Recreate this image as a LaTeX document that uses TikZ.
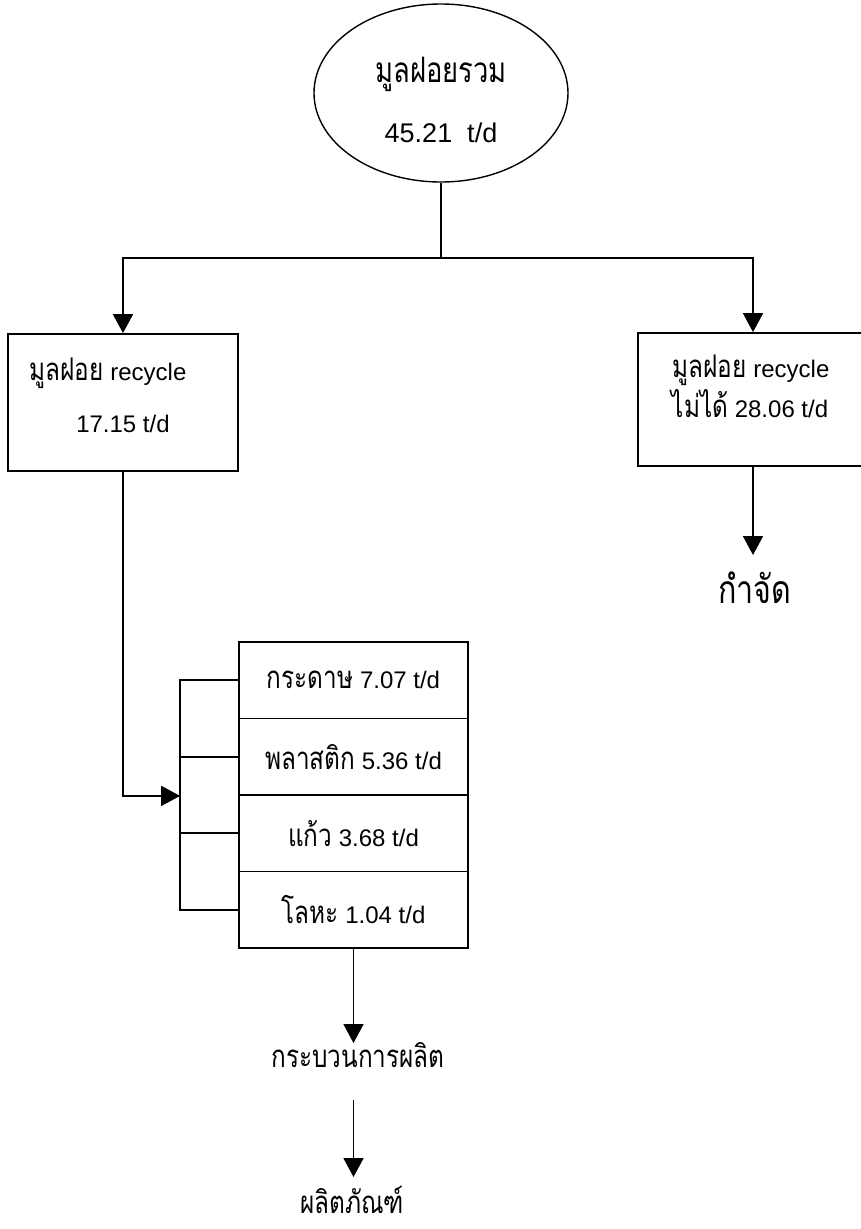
\documentclass[tikz,border=0pt]{standalone}
\usepackage{fontspec}
\setmainfont{Liberation Sans}
\newfontfamily\thaifont[Script=Thai, Scale=1.3, FakeStretch=0.78]{Loma}
\usetikzlibrary{arrows.meta,shapes.geometric,calc}
\begin{document}
\begin{tikzpicture}[x=1pt,y=-1pt,
  line width=1.8pt,
  arr/.style={-{Triangle[length=19pt,width=20pt]}},
  frame/.style={draw, rectangle, inner sep=0pt},
  txt/.style={inner sep=0pt, anchor=base, font=\fontsize{24}{30}\selectfont},
  big/.style={inner sep=0pt, anchor=base, font=\fontsize{27}{32}\selectfont},
  cell/.style={draw, rectangle, minimum width=229pt, minimum height=76.5pt,
    inner sep=0pt, font=\fontsize{24}{30}\selectfont},
  lbl/.style={inner sep=0pt, anchor=base, font=\thaifont\fontsize{24}{30}\selectfont},
]
\useasboundingbox (0,0) rectangle (861,1229);
\begin{scope}
\clip (0,0) rectangle (861,1229);

% total waste
\node[draw, ellipse, line width=1.4pt, minimum width=254pt, minimum height=178pt,
  inner sep=0pt] (total) at (441,93) {};
\node[big] (totname) at (441,82) {\thaifont มูลฝอยรวม};
\node[big] (totval) at (441,142) {45.21~~t/d};

% recyclable / non-recyclable
\node[frame, minimum width=230pt, minimum height=137pt] (rec) at (123,402.5) {};
\node[txt] (recname) at (108,380) {{\thaifont มูลฝอย} recycle};
\node[txt] (recval) at (123,432) {17.15 t/d};

\node[frame, minimum width=230pt, minimum height=133pt] (nonrec) at (753,399.5) {};
\node[txt] (nrname) at (751,377) {{\thaifont มูลฝอย} recycle};
\node[txt] (nrval) at (750,417) {{\thaifont ไม่ได้} 28.06 t/d};

\node[lbl, font=\thaifont\fontsize{30}{36}\selectfont] (dispose) at (755,603) {กำจัด};

% material breakdown
\node[cell] (c1) at (353.5,680.25) {{\thaifont กระดาษ} 7.07 t/d};
\node[cell] (c2) at (353.5,756.75) {{\thaifont พลาสติก} 5.36 t/d};
\node[cell] (c3) at (353.5,833.25) {{\thaifont แก้ว} 3.68 t/d};
\node[cell] (c4) at (353.5,909.75) {{\thaifont โลหะ} 1.04 t/d};

\node[lbl] (proc) at (358,1067) {กระบวนการผลิต};
\node[lbl] (prod) at (352,1213) {ผลิตภัณฑ์};

% connectors
\coordinate (split) at ($(total.south)+(0,75)$);
\draw (total.south) -- (split);
\draw[arr] (split) -| (rec.north);
\draw[arr] (split) -| (nonrec.north);
\draw[arr] (nonrec.south) -- ($(nonrec.south |- dispose.base)+(0,-48)$);

\coordinate (b1) at ($(c1.west)+(-58,0)$);
\coordinate (b4) at ($(c4.west)+(-58,0)$);
\coordinate (join) at ($(c2.south west)+(-58,0)$);
\draw (c1.west) -- (b1) -- (b4) -- (c4.west);
\draw (c2.west) -- ++(-58,0);
\draw (c3.west) -- ++(-58,0);
\draw[arr] (rec.south) |- (join);

\draw[arr] (c4.south) -- ($(c4.south |- proc.base)+(0,-24)$);
\draw[arr] ($(c4.south |- proc.base)+(0,33)$) -- ($(c4.south |- prod.base)+(0,-36)$);
\end{scope}
\end{tikzpicture}
\end{document}
